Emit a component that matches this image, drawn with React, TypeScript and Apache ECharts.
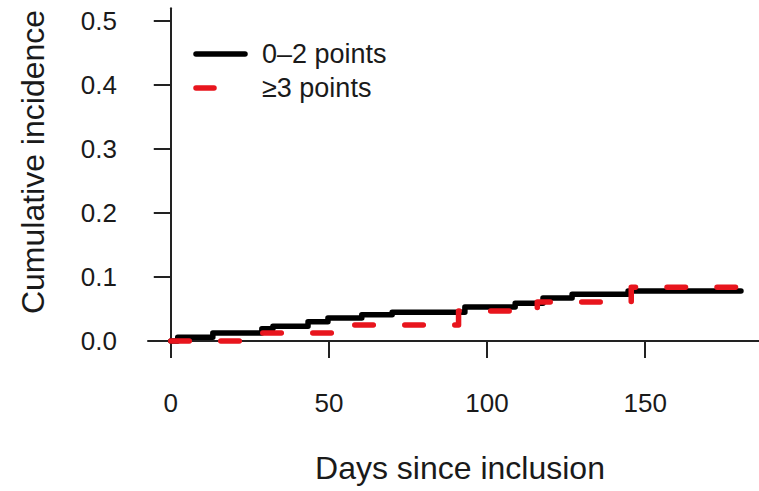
import React, { useEffect, useRef } from "react";
import * as echarts from "echarts";

// Step data: [day, cumulative incidence]
const lowRiskSteps: [number, number][] = [
  [0, 0],
  [2.2, 0.006],
  [13.3, 0.0125],
  [28.8, 0.019],
  [32.3, 0.023],
  [43.4, 0.03],
  [49.7, 0.036],
  [60.4, 0.041],
  [70, 0.045],
  [93, 0.053],
  [108.9, 0.059],
  [117.7, 0.067],
  [126.9, 0.073],
  [144.6, 0.078],
  [180.3, 0.078],
];

const highRiskSteps: [number, number][] = [
  [0, 0],
  [25.3, 0.0125],
  [54, 0.025],
  [91, 0.047],
  [115.9, 0.061],
  [145.6, 0.084],
  [180.3, 0.084],
];

const seriesNames = ["0\u20132 points", "\u22653 points"];
const xTicks = [0, 50, 100, 150];
const yTicks = [0, 0.1, 0.2, 0.3, 0.4, 0.5];
const xTitle = "Days since inclusion";
const yTitle = "Cumulative incidence";

const FONT = "'Liberation Sans', Arial, Helvetica, sans-serif";
const RED = "#e8151d";
const INK = "#1a1a1a";

export default function App() {
  const ref = useRef<HTMLDivElement>(null);

  useEffect(() => {
    if (!ref.current) return;
    const chart = echarts.init(ref.current, undefined, { renderer: "svg" });
    chart.setOption({
      animation: false,
      backgroundColor: "#ffffff",
      grid: { left: 148, top: 8.2, width: 611.8, height: 345.6, containLabel: false },
      xAxis: {
        type: "value",
        min: -7.2,
        max: 186,
        axisLine: { show: true, lineStyle: { color: "#222", width: 2 } },
        axisTick: { show: true, customValues: xTicks, length: 17, lineStyle: { color: "#222", width: 2 } },
        axisLabel: {
          customValues: xTicks,
          fontSize: 26,
          fontFamily: FONT,
          color: INK,
          margin: 36,
          formatter: (v: number) => String(v),
        },
        splitLine: { show: false },
      },
      yAxis: {
        type: "value",
        min: -0.02,
        max: 0.52,
        axisLine: { show: true, lineStyle: { color: "#222", width: 2 } },
        axisTick: { show: true, customValues: yTicks, length: 17, lineStyle: { color: "#222", width: 2 } },
        axisLabel: {
          customValues: yTicks,
          fontSize: 26,
          fontFamily: FONT,
          color: INK,
          margin: 31,
          formatter: (v: number) => v.toFixed(1),
        },
        splitLine: { show: false },
      },
      series: [
        {
          name: seriesNames[0],
          type: "line",
          step: "end",
          symbol: "none",
          data: lowRiskSteps,
          lineStyle: { color: "#000", width: 5.5, cap: "round", join: "round" },
          z: 2,
        },
        {
          name: seriesNames[1],
          type: "line",
          step: "end",
          symbol: "none",
          data: highRiskSteps,
          lineStyle: { color: RED, width: 5.5, type: [18.5, 31.5], cap: "round", join: "round" },
          z: 3,
        },
      ],
      graphic: [
        {
          type: "line",
          shape: { x1: 196, y1: 54, x2: 245, y2: 54 },
          style: { stroke: "#000", lineWidth: 5.5, lineCap: "round" },
        },
        {
          type: "line",
          shape: { x1: 196, y1: 88, x2: 214, y2: 88 },
          style: { stroke: RED, lineWidth: 5.5, lineCap: "round" },
        },
        {
          type: "text",
          x: 262,
          y: 54,
          style: { text: seriesNames[0], fontSize: 27, fontFamily: FONT, fill: INK, verticalAlign: "middle", align: "left" },
        },
        {
          type: "text",
          x: 262,
          y: 88,
          style: { text: seriesNames[1], fontSize: 27, fontFamily: FONT, fill: INK, verticalAlign: "middle", align: "left" },
        },
        {
          type: "text",
          x: 460,
          y: 468,
          style: { text: xTitle, fontSize: 32, fontFamily: FONT, fill: INK, verticalAlign: "middle", align: "center" },
        },
        {
          type: "text",
          x: 33,
          y: 162,
          rotation: Math.PI / 2,
          style: { text: yTitle, fontSize: 32, fontFamily: FONT, fill: INK, verticalAlign: "middle", align: "center" },
        },
      ],
    });
    return () => chart.dispose();
  }, []);

  return (
    <div
      ref={ref}
      style={{ position: "fixed", left: 0, top: 0, width: 759, height: 491 }}
    />
  );
}
